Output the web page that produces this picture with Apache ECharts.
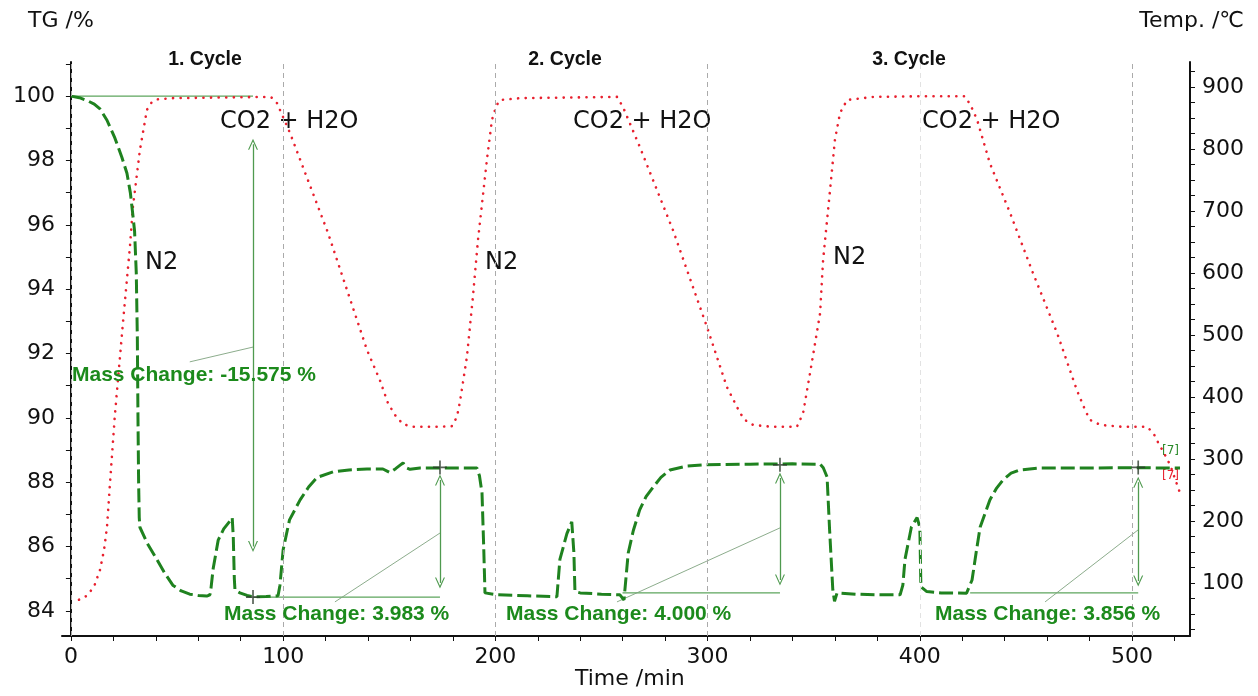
<!DOCTYPE html>
<html>
<head>
<meta charset="utf-8">
<script src="https://cdn.jsdelivr.net/npm/echarts@6/dist/echarts.min.js"></script>
<style>
  html, body { margin: 0; padding: 0; background: #fff; }
  #chart { width: 1258px; height: 696px; }
</style>
</head>
<body>
<div id="chart"></div>
<script>
// TG curve: time /min and mass /%
const tgTime = [0, 4, 8, 11, 13.7, 17, 20.7, 24, 26.4, 28, 29.2, 30, 30.8, 31.3, 31.6, 31.9, 32.2, 32.5,
  36, 40.5, 44, 48, 52, 56, 60, 64, 65.5, 66, 67, 69.4, 72, 75, 76, 76.5, 77, 77.3, 79.6, 83, 86, 92, 97.6,
  98.5, 100, 103, 108, 112, 116, 123.5, 131, 139.5, 147, 150.3, 153, 156.5, 158, 159.8, 164.5, 180, 191.3,
  192.5, 193.7, 194.5, 195.1, 200.7, 215, 229, 230.4, 233.7, 236, 237, 237.5, 240, 250, 258.7, 260.6,
  262.6, 265, 268, 271, 274.4, 278, 282.3, 290, 298, 320, 340, 353, 354.5, 356.3, 357.5, 359, 359.8,
  361, 370, 380, 390.7, 392, 393, 396, 398.7, 400, 400.5, 403.3, 410, 422, 424.6, 426.5, 428.4, 433,
  436, 439.2, 443, 447, 456.6, 480, 500, 522.6];
const tgValue = [100, 99.95, 99.85, 99.75, 99.6, 99.25, 98.7, 98.1, 97.6, 97.0, 96.3, 95.8, 94.5, 92.5, 90, 88, 86.9, 86.6,
  86.1, 85.6, 85.2, 84.8, 84.62, 84.52, 84.48, 84.46, 84.5, 84.7, 85.3, 86.2, 86.55, 86.8, 86.9, 86.3, 85.0, 84.65, 84.56, 84.48, 84.44, 84.45, 84.47,
  84.8, 85.9, 86.83, 87.45, 87.85, 88.15, 88.32, 88.38, 88.41, 88.41, 88.3, 88.42, 88.6, 88.45, 88.4, 88.44, 88.44, 88.44,
  88.2, 87.67, 86, 84.56, 84.5, 84.47, 84.44, 85.6, 86.4, 86.77, 85.8, 84.6, 84.56, 84.52, 84.5, 84.34,
  85.8, 86.5, 87.14, 87.55, 87.85, 88.15, 88.38, 88.5, 88.54, 88.56, 88.57, 88.56, 88.45, 88.16, 86.5, 84.65, 84.3,
  84.56, 84.52, 84.5, 84.5, 84.8, 85.6, 86.6, 86.9, 86.6, 84.75, 84.6, 84.56, 84.55, 84.96, 85.8, 86.6, 87.45,
  87.8, 88.07, 88.28, 88.38, 88.44, 88.44, 88.45, 88.44];

// temperature curve: time /min and temp /°C
const tempTime = [3.8, 6, 8, 11, 13.7, 15.6, 17, 18.4, 20.7, 24.5, 27.8, 29.2, 32.5, 35.8, 38, 40.5, 48, 70, 93.8,
  95, 97.1, 103.2, 121.1, 139.5, 145.6, 149.4, 152.7, 156.5, 161.2, 173.9, 179.5, 181.9, 183.3, 186.6, 189.4,
  191.8, 196, 198.4, 200.5, 202.2, 211.6, 235, 257.3, 260.1, 268.1, 283.7, 299.7, 309.1, 315.3, 318, 321.4,
  330, 342.1, 345, 348.3, 353, 354.4, 357.7, 360, 362.4, 365.7, 378, 400, 421.3, 424, 427, 433, 442.5, 453.3,
  464.7, 474, 478, 480.2, 485, 495, 507, 510, 512.2, 515, 518, 522.6];
const tempValue = [73, 76, 81, 95, 121, 153, 190, 260, 370, 519, 642, 706, 798, 863, 875, 880, 882, 883, 884,
  882, 874, 826, 665, 476, 427, 390, 371, 356, 352, 352, 353, 368, 392, 465, 561,
  653, 782, 847, 870, 879, 882, 883, 884, 868, 803, 669, 513, 416, 374, 362, 355,
  352, 352, 374, 439, 535, 620, 734, 815, 858, 879, 884, 885, 885, 870, 847, 777, 697, 600,
  503, 411, 378, 363, 355, 352, 352, 342, 327, 310, 290, 245];

const timeLabels = [0, 100, 200, 300, 400, 500];
const timeTicks = [0, 20, 40, 60, 80, 100, 120, 140, 160, 180, 200, 220, 240, 260, 280, 300, 320, 340, 360,
  380, 400, 420, 440, 460, 480, 500, 520];
const tgLabels = [84, 86, 88, 90, 92, 94, 96, 98, 100];
const tgTicks = [84, 85, 86, 87, 88, 89, 90, 91, 92, 93, 94, 95, 96, 97, 98, 99, 100, 101];
const tempLabels = [100, 200, 300, 400, 500, 600, 700, 800, 900];
const tempTicks = [25, 50, 75, 100, 125, 150, 175, 200, 225, 250, 275, 300, 325, 350, 375, 400, 425, 450, 475,
  500, 525, 550, 575, 600, 625, 650, 675, 700, 725, 750, 775, 800, 825, 850, 875, 900, 925];
const cycleLines = [0, 100, 200, 300, 400, 500];

// mass change evaluation marks (time, TG)
const refLines = [[[0, 100], [85.8, 100]], [[85.8, 84.43], [173.9, 84.43]],
  [[259.9, 84.56], [334.1, 84.56]], [[423.7, 84.56], [502.9, 84.56]]];
const arrows = [[[85.8, 98.5], [85.8, 86.0]], [[173.9, 88.07], [173.9, 84.87]],
  [[334.1, 88.13], [334.1, 84.96]], [[502.9, 88.0], [502.9, 84.93]]];
const crosses = [[85.8, 84.43], [173.9, 88.46], [334.1, 88.54], [502.9, 88.46]];
const leaders = [[[85.8, 92.2], [56, 91.74]], [[124.4, 84.28], [173.9, 86.42]],
  [[257.3, 84.28], [334.1, 86.58]], [[459, 84.28], [502.9, 86.52]]];

const tgData = tgTime.map((t, i) => [t, tgValue[i]]);
const tempData = tempTime.map((t, i) => [t, tempValue[i]]);
const joinSegs = segs => segs.reduce((acc, s, i) => acc.concat(i ? ['-'] : [], s), []);

const font = 'DejaVu Sans';
const chevron = 'path://M5,0L10,10L8.8,10L5,2.4L1.2,10L0,10Z';
const massFont = 'bold 21px "Liberation Sans"';
const cycleFont = 'bold 19.5px "Liberation Sans"';

const chart = echarts.init(document.getElementById('chart'));
const option = {
  animation: false,
  grid: { left: 62, right: 68, top: 62, bottom: 60 },
  xAxis: {
    type: 'value', min: -4.2, max: 527.3,
    axisLine: { lineStyle: { color: '#111', width: 2 } },
    axisTick: { customValues: timeTicks, length: 5, lineStyle: { color: '#111' } },
    axisLabel: { customValues: timeLabels, color: '#111', fontFamily: font, fontSize: 22, margin: 10 },
    splitLine: { show: false }
  },
  yAxis: [
    {
      type: 'value', min: 83.22, max: 101.06, position: 'left',
      axisLine: { show: true, lineStyle: { color: '#111', width: 2 } },
      axisTick: { customValues: tgTicks, length: 5, lineStyle: { color: '#111' } },
      axisLabel: { customValues: tgLabels, color: '#111', fontFamily: font, fontSize: 22, margin: 7 },
      splitLine: { show: false }
    },
    {
      type: 'value', min: 14.5, max: 940.3, position: 'right',
      axisLine: { show: true, lineStyle: { color: '#111', width: 2 } },
      axisTick: { customValues: tempTicks, length: 5, lineStyle: { color: '#111' } },
      axisLabel: { customValues: tempLabels, color: '#111', fontFamily: font, fontSize: 22, margin: 12 },
      splitLine: { show: false }
    }
  ],
  series: [
    {
      name: 'Temp', type: 'line', yAxisIndex: 1, data: tempData, showSymbol: false, z: 3,
      lineStyle: { color: '#e8202e', width: 2.6, type: [0.1, 7.5], cap: 'round' },
      markLine: {
        silent: true, symbol: ['none', 'none'], label: { show: false },
        lineStyle: { color: '#aaa', type: [5, 4], width: 1 },
        data: cycleLines.map(v => v === 400
          ? { xAxis: v, lineStyle: { color: '#e2e2e2' } }
          : { xAxis: v })
      }
    },
    {
      name: 'TG', type: 'line', yAxisIndex: 0, data: tgData, showSymbol: false, z: 4,
      lineStyle: { color: '#1f821f', width: 3, type: [14, 5] }
    },
    {
      name: 'ref', type: 'line', yAxisIndex: 0, data: joinSegs(refLines), showSymbol: false, z: 2,
      lineStyle: { color: '#5ea55e', width: 1.3 },
      markLine: {
        silent: true, symbol: [chevron, chevron], symbolSize: [10, 11], label: { show: false },
        lineStyle: { color: '#4f9a4f', width: 1.3, type: 'solid' },
        data: arrows.map(a => [{ coord: a[0] }, { coord: a[1] }])
      }
    },
    {
      name: 'leader', type: 'line', yAxisIndex: 0, data: joinSegs(leaders), showSymbol: false, z: 2,
      lineStyle: { color: '#7fa37f', width: 0.9 }
    },
    {
      name: 'cross', type: 'scatter', yAxisIndex: 0, data: crosses, z: 5,
      symbol: 'path://M4.4,0h1.2v4.4h4.4v1.2h-4.4v4.4h-1.2v-4.4h-4.4v-1.2h4.4z', symbolSize: 14,
      itemStyle: { color: '#2a3a2a' }
    }
  ],
  graphic: [
    { type: 'text', left: 28, top: 10, style: { text: 'TG /%', font: '22px "DejaVu Sans"', fill: '#111' } },
    { type: 'text', right: 14, top: 10, style: { text: 'Temp. /℃', font: '22px "DejaVu Sans"', fill: '#111' } },
    { type: 'text', left: 575, top: 668, style: { text: 'Time /min', font: '22px "DejaVu Sans"', fill: '#111' } },
    { type: 'text', x: 205, y: 60, style: { text: '1. Cycle', font: cycleFont, fill: '#111', align: 'center', verticalAlign: 'middle' } },
    { type: 'text', x: 565, y: 60, style: { text: '2. Cycle', font: cycleFont, fill: '#111', align: 'center', verticalAlign: 'middle' } },
    { type: 'text', x: 909, y: 60, style: { text: '3. Cycle', font: cycleFont, fill: '#111', align: 'center', verticalAlign: 'middle' } },
    { type: 'text', x: 220, y: 122, style: { text: 'CO2 + H2O', font: '24px "DejaVu Sans"', fill: '#111', verticalAlign: 'middle' } },
    { type: 'text', x: 573, y: 122, style: { text: 'CO2 + H2O', font: '24px "DejaVu Sans"', fill: '#111', verticalAlign: 'middle' } },
    { type: 'text', x: 922, y: 122, style: { text: 'CO2 + H2O', font: '24px "DejaVu Sans"', fill: '#111', verticalAlign: 'middle' } },
    { type: 'text', x: 145, y: 263, style: { text: 'N2', font: '24px "DejaVu Sans"', fill: '#111', verticalAlign: 'middle' } },
    { type: 'text', x: 485, y: 263, style: { text: 'N2', font: '24px "DejaVu Sans"', fill: '#111', verticalAlign: 'middle' } },
    { type: 'text', x: 833, y: 258, style: { text: 'N2', font: '24px "DejaVu Sans"', fill: '#111', verticalAlign: 'middle' } },
    { type: 'text', x: 72, y: 375, z: 10, style: { text: 'Mass Change: -15.575 %', font: massFont, fill: '#1c8a1c', verticalAlign: 'middle' } },
    { type: 'text', x: 224, y: 614, z: 10, style: { text: 'Mass Change: 3.983 %', font: massFont, fill: '#1c8a1c', verticalAlign: 'middle' } },
    { type: 'text', x: 506, y: 614, z: 10, style: { text: 'Mass Change: 4.000 %', font: massFont, fill: '#1c8a1c', verticalAlign: 'middle' } },
    { type: 'text', x: 935, y: 614, z: 10, style: { text: 'Mass Change: 3.856 %', font: massFont, fill: '#1c8a1c', verticalAlign: 'middle' } },
    { type: 'text', x: 1162, y: 451, style: { text: '[7]', font: '12px "DejaVu Sans"', fill: '#2a8a2a', verticalAlign: 'middle' } },
    { type: 'text', x: 1162, y: 476, style: { text: '[7]', font: '12px "DejaVu Sans"', fill: '#e8202e', verticalAlign: 'middle' } }
  ]
};
chart.setOption(option);
</script>
</body>
</html>
